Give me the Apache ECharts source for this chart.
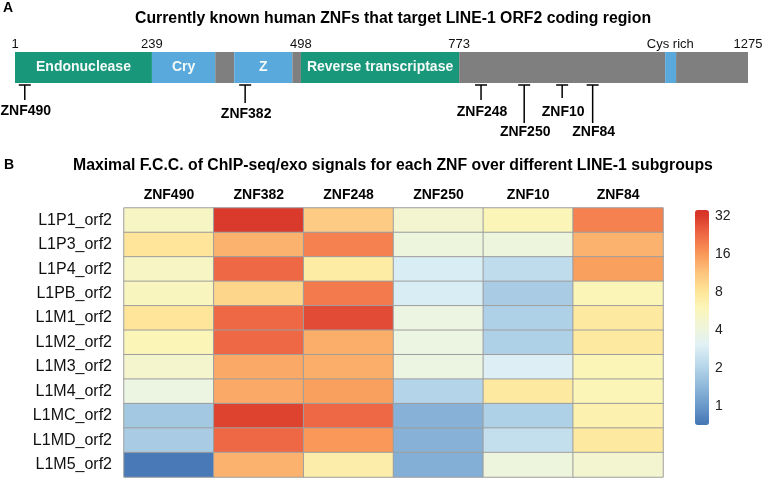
<!DOCTYPE html>
<html>
<head>
<meta charset="utf-8">
<script src="https://cdn.jsdelivr.net/npm/echarts@6/dist/echarts.min.js"></script>
<style>html,body{margin:0;padding:0;background:#fff}#c{width:764px;height:479px}</style>
</head>
<body>
<div id="c"></div>
<script>
// ---------- Panel A data ----------
const domainNames = ['Endonuclease', 'Cry', '', 'Z', '', 'Reverse transcriptase', '', 'Cys rich', ''];
const domainStart = [1, 239, 349, 382, 483, 498, 773, 1131, 1150];
const domainEnd   = [239, 349, 382, 483, 498, 773, 1131, 1150, 1275];
const domainKind  = ['green', 'blue', 'gray', 'blue', 'gray', 'green', 'gray', 'blue', 'gray'];
const positionTicks  = [1, 239, 498, 773, 1140, 1275];
const positionLabels = ['1', '239', '498', '773', 'Cys rich', '1275'];
const znfNames = ['ZNF490', 'ZNF382', 'ZNF248', 'ZNF250', 'ZNF10', 'ZNF84'];
const znfSites = [18, 401, 811, 886, 952, 1005];

// ---------- Panel B data ----------
const subgroups = ['L1P1_orf2', 'L1P3_orf2', 'L1P4_orf2', 'L1PB_orf2', 'L1M1_orf2', 'L1M2_orf2',
                   'L1M3_orf2', 'L1M4_orf2', 'L1MC_orf2', 'L1MD_orf2', 'L1M5_orf2'];
const fccZNF490 = [5.3, 8, 5.3, 5.6, 8, 6, 4.8, 3.8, 1.7, 1.8, 0.72];
const fccZNF382 = [32, 13, 23, 9.5, 23, 23, 14, 14, 30, 23, 13];
const fccZNF248 = [10.5, 19, 7.2, 20, 28, 13.5, 13.5, 15, 23, 16, 6.8];
const fccZNF250 = [4.6, 4, 2.8, 2.8, 3.8, 3.8, 3.8, 2, 1.3, 1.3, 1.25];
const fccZNF10  = [6, 4, 2.2, 1.8, 1.9, 1.9, 2.9, 7.5, 1.9, 2.3, 4];
const fccZNF84  = [19, 13, 15, 6, 7.5, 7.5, 6, 6, 6.5, 7.5, 4.6];
const colorbarTicks = [1, 2, 4, 8, 16, 32];

// ---------- styles ----------
const FONT = "'Liberation Sans', Arial, Helvetica, sans-serif";
const kindColor = { green: '#19977a', blue: '#5aa9dd', gray: '#7f7f7f' };
const stemLen = [15, 18, 15, 38, 13, 38];
const labelGap = [11, 11, 12, 9, 14, 9];

// color scale stops in log2 space
const stops = [
  [-0.53, '#4575b4'], [0, '#6b9bcb'], [1, '#b4d5e9'], [1.58, '#e0f1f6'], [2, '#eef5dd'],
  [2.6, '#fbf5b7'], [3, '#fee598'], [3.5, '#fdc47d'], [4, '#f99858'], [4.55, '#ee6544'], [5, '#d93a2b'], [5.16, '#d73027']
];
function hex2rgb(h) { return [1, 3, 5].map(i => parseInt(h.substr(i, 2), 16)); }
function colorAt(v) {
  for (let i = 0; i < stops.length - 1; i++) {
    const [a, ca] = stops[i], [b, cb] = stops[i + 1];
    if (v <= b) {
      const t = (v - a) / (b - a), A = hex2rgb(ca), B = hex2rgb(cb);
      return 'rgb(' + A.map((x, k) => Math.round(x + (B[k] - x) * t)).join(',') + ')';
    }
  }
  return stops[stops.length - 1][1];
}
const vmMin = -0.53, vmMax = 5.16, N = 120;
const colorList = [];
for (let i = 0; i <= N; i++) colorList.push(colorAt(vmMin + (vmMax - vmMin) * i / N));

const columns = [fccZNF490, fccZNF382, fccZNF248, fccZNF250, fccZNF10, fccZNF84];
const heatData = [];
columns.forEach((col, ci) => col.forEach((v, ri) => heatData.push([ci, ri, Math.log2(v)])));

const domainData = domainStart.map((s, i) => [s, domainEnd[i], i]);

const titleStyle = (size) => ({ fontSize: size, fontWeight: 'bold', color: '#000', fontFamily: FONT });

const chart = echarts.init(document.getElementById('c'), null, { renderer: 'canvas' });
chart.setOption({
  animation: false,
  backgroundColor: '#fff',
  textStyle: { fontFamily: FONT },
  title: [
    { text: 'A', left: 3, top: 1, padding: 0, textStyle: titleStyle(14) },
    { text: 'Currently known human ZNFs that target LINE-1 ORF2 coding region', left: 135, top: 11, padding: 0,
      textStyle: titleStyle(15.8) },
    { text: 'B', left: 4, top: 158, padding: 0, textStyle: titleStyle(14) },
    { text: 'Maximal F.C.C. of ChIP-seq/exo signals for each ZNF over different LINE-1 subgroups', left: 73, top: 158, padding: 0,
      textStyle: titleStyle(15.8) }
  ],
  grid: [
    { left: 15, top: 52, width: 733, height: 31 },
    { left: 124, top: 208, width: 539, height: 269 },
    { left: 695, top: 216, width: 14, height: 190 }
  ],
  xAxis: [
    { gridIndex: 0, type: 'value', min: 1, max: 1275, show: false },
    { gridIndex: 1, type: 'category', data: znfNames, position: 'top',
      axisLine: { show: false }, axisTick: { show: false }, splitLine: { show: false },
      axisLabel: { fontSize: 14, fontWeight: 'bold', color: '#000', margin: 6, fontFamily: FONT } },
    { gridIndex: 2, type: 'value', show: false }
  ],
  yAxis: [
    { gridIndex: 0, type: 'value', min: 0, max: 1, show: false },
    { gridIndex: 1, type: 'category', data: subgroups, inverse: true,
      axisLine: { show: false }, axisTick: { show: false }, splitLine: { show: false },
      axisLabel: { fontSize: 16, color: '#111', margin: 12, fontFamily: FONT } },
    { gridIndex: 2, type: 'value', min: 0, max: 5, interval: 1, position: 'right',
      axisLine: { show: false }, axisTick: { show: false }, splitLine: { show: false },
      axisLabel: { fontSize: 14, color: '#222', margin: 6, fontFamily: FONT,
        formatter: v => String(colorbarTicks[v]) } }
  ],
  visualMap: {
    type: 'continuous', seriesIndex: 3, dimension: 2, min: vmMin, max: vmMax,
    calculable: false, show: true, left: 695, top: 210, itemWidth: 14, itemHeight: 215,
    padding: 0, text: null, showLabel: false, hoverLink: false,
    inRange: { color: colorList }
  },
  series: [
    { type: 'custom', xAxisIndex: 0, yAxisIndex: 0, data: domainData, silent: true,
      renderItem: (params, api) => {
        const p0 = api.coord([api.value(0), 1]);
        const p1 = api.coord([api.value(1), 0]);
        const i = api.value(2);
        const children = [{ type: 'rect', shape: { x: p0[0], y: p0[1], width: p1[0] - p0[0], height: p1[1] - p0[1] },
          style: { fill: kindColor[domainKind[i]] } }];
        const name = domainNames[i];
        if (name && name !== 'Cys rich') children.push({ type: 'text', x: (p0[0] + p1[0]) / 2, y: (p0[1] + p1[1]) / 2,
          style: { text: name, fill: '#f4faf8', font: 'bold 14px ' + FONT, align: 'center', verticalAlign: 'middle' } });
        return { type: 'group', children };
      } },
    { type: 'custom', xAxisIndex: 0, yAxisIndex: 0, data: positionTicks.map((p, i) => [p, i]), silent: true,
      renderItem: (params, api) => {
        const p = api.coord([api.value(0), 1]);
        return { type: 'text', x: p[0], y: p[1] - 8,
          style: { text: positionLabels[api.value(1)], fill: '#111', font: '13px ' + FONT, align: 'center', verticalAlign: 'middle' } };
      } },
    { type: 'custom', xAxisIndex: 0, yAxisIndex: 0, data: znfSites.map((p, i) => [p, i]), silent: true,
      renderItem: (params, api) => {
        const i = api.value(1);
        const p = api.coord([api.value(0), 0]);
        const x = p[0], top = p[1] + 2, s = stemLen[i];
        return { type: 'group', children: [
          { type: 'line', shape: { x1: x - 6, y1: top, x2: x + 6, y2: top }, style: { stroke: '#000', lineWidth: 1.5 } },
          { type: 'line', shape: { x1: x, y1: top, x2: x, y2: top + s }, style: { stroke: '#000', lineWidth: 1.5 } },
          { type: 'text', x: x + 1, y: top + s + labelGap[i],
            style: { text: znfNames[i], fill: '#000', font: 'bold 14px ' + FONT, align: 'center', verticalAlign: 'middle' } }
        ] };
      } },
    { type: 'heatmap', xAxisIndex: 1, yAxisIndex: 1, data: heatData, silent: true,
      itemStyle: { borderColor: '#9e9e9e', borderWidth: 1 } }
  ]
});
</script>
</body>
</html>
